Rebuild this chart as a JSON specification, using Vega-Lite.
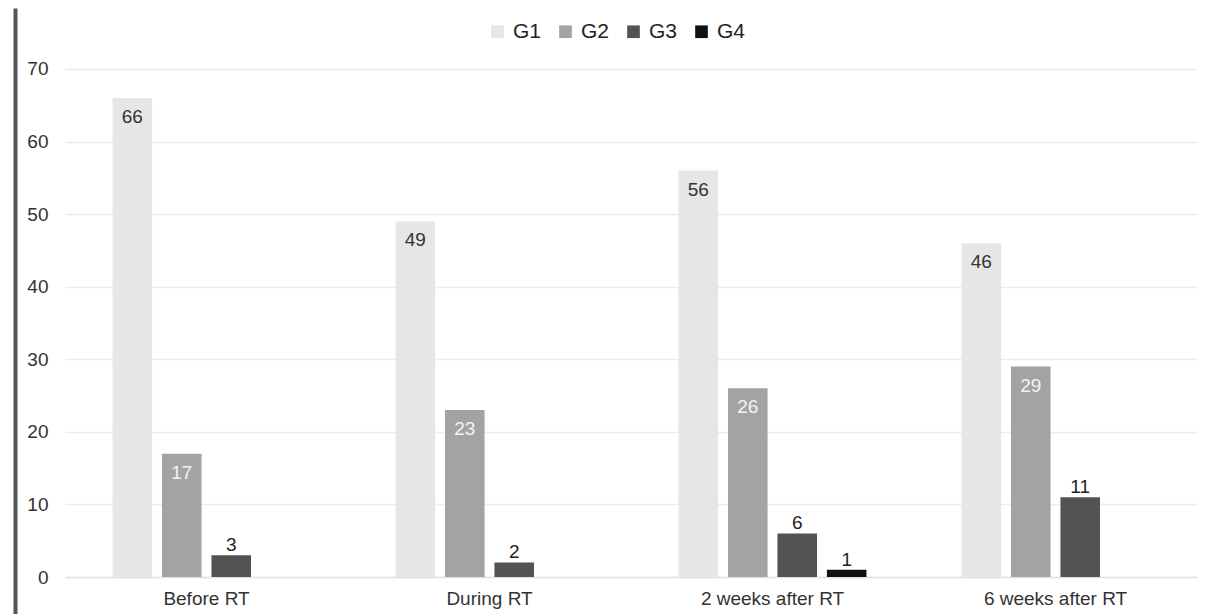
{
  "$schema": "https://vega.github.io/schema/vega-lite/v6.json",
  "width": 1132,
  "height": 606,
  "autosize": {"type": "none"},
  "padding": {"left": 65, "top": 8, "right": 10, "bottom": 0},
  "background": "white",
  "data": {
    "values": [
      {"Period": "Before RT", "Group": "G1", "Count": 66},
      {"Period": "Before RT", "Group": "G2", "Count": 17},
      {"Period": "Before RT", "Group": "G3", "Count": 3},
      {"Period": "During RT", "Group": "G1", "Count": 49},
      {"Period": "During RT", "Group": "G2", "Count": 23},
      {"Period": "During RT", "Group": "G3", "Count": 2},
      {"Period": "2 weeks after RT", "Group": "G1", "Count": 56},
      {"Period": "2 weeks after RT", "Group": "G2", "Count": 26},
      {"Period": "2 weeks after RT", "Group": "G3", "Count": 6},
      {"Period": "2 weeks after RT", "Group": "G4", "Count": 1},
      {"Period": "6 weeks after RT", "Group": "G1", "Count": 46},
      {"Period": "6 weeks after RT", "Group": "G2", "Count": 29},
      {"Period": "6 weeks after RT", "Group": "G3", "Count": 11}
    ]
  },
  "encoding": {
    "x": {
      "field": "Period",
      "type": "nominal",
      "sort": ["Before RT", "During RT", "2 weeks after RT", "6 weeks after RT"],
      "scale": {"paddingInner": 0.336, "paddingOuter": 0.168},
      "axis": {
        "title": null,
        "offset": -37,
        "labelAngle": 0,
        "labelFontSize": 19,
        "labelFont": "Liberation Sans",
        "labelColor": "#333333",
        "labelPadding": 12,
        "ticks": false,
        "domain": true,
        "domainColor": "#e2e2e2",
        "domainWidth": 1.5,
        "grid": false
      }
    },
    "xOffset": {
      "field": "Group",
      "type": "nominal",
      "scale": {"domain": ["G1", "G2", "G3", "G4"], "paddingInner": 0.2, "paddingOuter": 0}
    },
    "y": {
      "field": "Count",
      "type": "quantitative",
      "scale": {"domain": [-5.098, 78.405], "nice": false, "zero": false},
      "axis": {
        "title": null,
        "values": [0, 10, 20, 30, 40, 50, 60, 70],
        "offset": 50,
        "labelFontSize": 19,
        "labelFont": "Liberation Sans",
        "labelColor": "#333333",
        "labelPadding": -33,
        "ticks": false,
        "domain": true,
        "domainColor": "#555555",
        "domainWidth": 4,
        "grid": true,
        "gridColor": "#ececec",
        "gridWidth": 1.5
      }
    }
  },
  "layer": [
    {
      "mark": {"type": "bar"},
      "encoding": {
        "y2": {"datum": 0},
        "color": {
          "field": "Group",
          "type": "nominal",
          "scale": {
            "domain": ["G1", "G2", "G3", "G4"],
            "range": ["#e6e6e6", "#a3a3a3", "#535353", "#111111"]
          },
          "legend": {
            "title": null,
            "orient": "none",
            "direction": "horizontal",
            "legendX": 422,
            "legendY": 13,
            "symbolType": "square",
            "symbolSize": 160,
            "symbolStrokeWidth": 0,
            "labelFontSize": 21,
            "labelFont": "Liberation Sans",
            "labelColor": "#222222",
            "labelOffset": 5,
            "columnPadding": 13
          }
        }
      }
    },
    {
      "transform": [{"filter": "datum.Group == 'G1'"}],
      "mark": {"type": "text", "baseline": "middle", "dy": 19, "fontSize": 19, "font": "Liberation Sans", "color": "#333333"},
      "encoding": {"text": {"field": "Count", "type": "quantitative"}}
    },
    {
      "transform": [{"filter": "datum.Group == 'G2'"}],
      "mark": {"type": "text", "baseline": "middle", "dy": 19, "fontSize": 19, "font": "Liberation Sans", "color": "#f4f4f4"},
      "encoding": {"text": {"field": "Count", "type": "quantitative"}}
    },
    {
      "transform": [{"filter": "datum.Group == 'G3' || datum.Group == 'G4'"}],
      "mark": {"type": "text", "baseline": "alphabetic", "dy": -4, "fontSize": 19, "font": "Liberation Sans", "color": "#222222"},
      "encoding": {"text": {"field": "Count", "type": "quantitative"}}
    }
  ],
  "config": {"view": {"stroke": null}}
}
